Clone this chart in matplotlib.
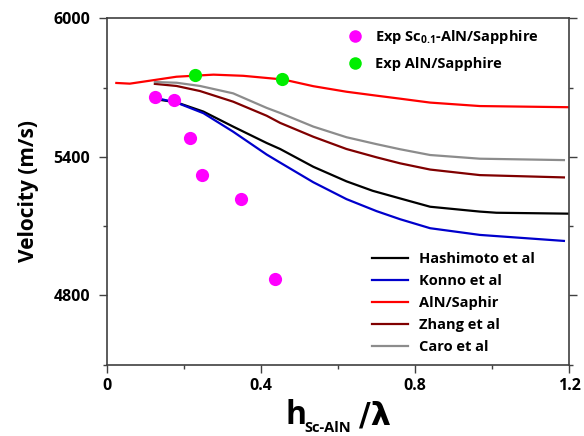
import matplotlib
matplotlib.use("Agg")
import matplotlib.pyplot as plt
from matplotlib.ticker import MultipleLocator

FONT = ['Open Sans', 'DejaVu Sans']
plt.rcParams['font.family'] = FONT
plt.rcParams['mathtext.fontset'] = 'custom'
plt.rcParams['mathtext.rm'] = 'Open Sans:bold'
plt.rcParams['mathtext.bf'] = 'Open Sans:bold'

# Experimental data
exp_sc_x = [0.124, 0.174, 0.217, 0.248, 0.348, 0.437]
exp_sc_y = [5658, 5648, 5483, 5320, 5216, 4872]
exp_aln_x = [0.228, 0.456]
exp_aln_y = [5756, 5739]

# Theory curves
red_x = [0.025, 0.060, 0.125, 0.181, 0.277, 0.354, 0.458, 0.536, 0.622, 0.700, 0.761, 0.839, 0.968, 1.197]
red_y = [5720, 5717, 5733, 5747, 5756, 5751, 5735, 5706, 5682, 5665, 5652, 5635, 5620, 5615]

caro_x = [0.125, 0.181, 0.242, 0.328, 0.415, 0.450, 0.536, 0.622, 0.700, 0.761, 0.839, 0.968, 1.186]
caro_y = [5724, 5721, 5707, 5675, 5612, 5590, 5531, 5485, 5455, 5433, 5408, 5392, 5386]

zhang_x = [0.125, 0.181, 0.242, 0.328, 0.415, 0.450, 0.536, 0.622, 0.700, 0.761, 0.839, 0.968, 1.186]
zhang_y = [5716, 5707, 5685, 5639, 5578, 5547, 5487, 5434, 5398, 5372, 5345, 5321, 5311]

hashi_x = [0.130, 0.181, 0.251, 0.328, 0.415, 0.450, 0.536, 0.622, 0.690, 0.761, 0.839, 0.968, 1.011, 1.200]
hashi_y = [5649, 5636, 5596, 5531, 5460, 5434, 5357, 5294, 5253, 5220, 5184, 5163, 5158, 5154]

konno_x = [0.125, 0.181, 0.251, 0.328, 0.415, 0.450, 0.536, 0.622, 0.700, 0.761, 0.839, 0.968, 1.186]
konno_y = [5656, 5635, 5589, 5509, 5410, 5375, 5290, 5217, 5165, 5130, 5091, 5062, 5036]

x_ticks = [0, 0.4, 0.8, 1.2]
x_tick_labels = ['0', '0.4', '0.8', '1.2']
y_ticks = [4800, 5400, 6000]
y_tick_labels = ['4800', '5400', '6000']

fig = plt.figure(figsize=(5.84, 4.36), dpi=100)
ax = fig.add_axes([106.7/584, 1-364.7/436, (569.3-106.7)/584, (364.7-18.3)/436])

lw = 1.6
l1, = ax.plot(hashi_x, hashi_y, color='black', lw=lw, label='Hashimoto et al')
l2, = ax.plot(konno_x, konno_y, color='#0000CC', lw=lw, label='Konno et al')
l3, = ax.plot(red_x, red_y, color='#FF0000', lw=lw, label='AlN/Saphir')
l4, = ax.plot(zhang_x, zhang_y, color='#800000', lw=lw, label='Zhang et al')
l5, = ax.plot(caro_x, caro_y, color='#8C8C8C', lw=lw, label='Caro et al')

p1, = ax.plot(exp_sc_x, exp_sc_y, 'o', color='#FF00FF', ms=9.5, mec='none',
              label='Exp Sc$_{0.1}$-AlN/Sapphire', zorder=5)
p2, = ax.plot(exp_aln_x, exp_aln_y, 'o', color='#00EE00', ms=9.5, mec='none',
              label='Exp AlN/Sapphire', zorder=5)

ax.set_xlim(0, 1.2)
ax.set_ylim(4500, 6000)
ax.set_xticks(x_ticks)
ax.set_xticklabels(x_tick_labels)
ax.set_yticks(y_ticks)
ax.set_yticklabels(y_tick_labels)
ax.xaxis.set_minor_locator(MultipleLocator(0.2))
ax.yaxis.set_minor_locator(MultipleLocator(300))

for s in ax.spines.values():
    s.set_color('#404040')
    s.set_linewidth(1.2)

ax.tick_params(which='both', direction='out', color='#404040', width=1.0,
               labelsize=11.5, right=True, labelright=False)
ax.tick_params(which='major', length=6)
ax.tick_params(which='minor', length=3)
ax.tick_params(axis='y', pad=6)
for lab in ax.get_xticklabels() + ax.get_yticklabels():
    lab.set_fontweight('bold')

ax.set_ylabel('Velocity (m/s)', fontsize=15, fontweight='bold', labelpad=10)

# x label built from pieces: large h, small subscript, large /λ
fig.text(285/584, 1-424/436, 'h', fontsize=23, fontweight='bold', va='baseline', ha='left')
fig.text(304/584, 1-432/436, 'Sc-AlN', fontsize=10.5, fontweight='bold', va='baseline', ha='left')
fig.text(359/584, 1-424/436, '/\u03bb', fontsize=23, fontweight='bold', va='baseline', ha='left',
         family=['DejaVu Sans'])

leg1 = ax.legend(handles=[p1, p2], loc='upper left', bbox_to_anchor=(0.492, 1.01),
                 frameon=False, prop={'weight': 'bold', 'size': 10.5},
                 handlelength=1.0, handletextpad=0.9, labelspacing=0.75, markerscale=0.95)
ax.add_artist(leg1)
leg2 = ax.legend(handles=[l1, l2, l3, l4, l5], loc='lower left', bbox_to_anchor=(0.545, -0.007),
                 frameon=False, prop={'weight': 'bold', 'size': 10.5},
                 handlelength=2.5, handletextpad=0.75, labelspacing=0.55)

fig.savefig('out.png', dpi=100)
